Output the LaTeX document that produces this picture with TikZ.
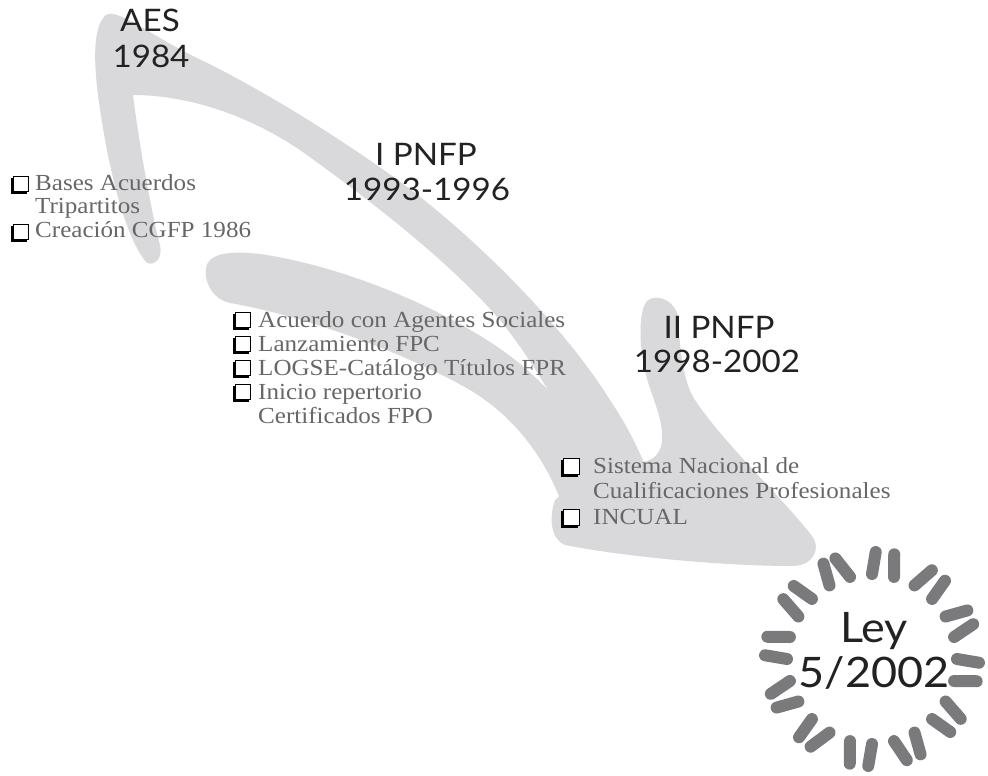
\documentclass[tikz,border=0pt]{standalone}
\usepackage{fontspec}
\setmainfont{Liberation Serif}
\newfontfamily\titlefont[FakeStretch=1.07]{Lato}
\newfontfamily\itemfont[FakeStretch=1.09]{Liberation Serif}
\definecolor{swoosh}{HTML}{D9D9DB}
\definecolor{raygray}{HTML}{7A7A7C}
\definecolor{itemgray}{HTML}{676767}
\definecolor{titleblack}{HTML}{222222}
\tikzset{
  titletext/.style={font=\titlefont\fontsize{31}{36}\selectfont, text=titleblack, inner sep=0pt, anchor=base},
  leytext/.style={font=\titlefont\fontsize{42}{45}\selectfont, text=titleblack, inner sep=0pt, anchor=base},
  itemtext/.style={font=\itemfont\fontsize{23}{24}\selectfont, text=itemgray, inner sep=0pt, anchor=base west},
  chk/.style={draw=black, line width=0.9pt, fill=white, minimum size=15pt, inner sep=0pt,
    preaction={fill=black, draw=black, line width=0.9pt, transform canvas={shift={(-2pt,-2pt)}}}},
  sunray/.style={draw=raygray, line width=12pt, line cap=round}
}
\begin{document}
\begin{tikzpicture}[x=1pt,y=-1pt]
\useasboundingbox (0,0) rectangle (988,776);
\fill[white] (0,0) rectangle (988,776);

% ---- grey brush arrow ----
\fill[swoosh] (147,263)
 .. controls (126,240) and (108,170) .. (98,95)
 .. controls (93,55) and (94,25) .. (106,15)
 .. controls (118,8) and (150,35) .. (195,57)
 .. controls (260,88) and (335,135) .. (395,178)
 .. controls (465,228) and (560,320) .. (610,400)
 .. controls (630,430) and (645,460) .. (655,495)
 -- (600,505)
 .. controls (580,440) and (540,370) .. (500,320)
 .. controls (450,262) and (370,200) .. (300,150)
 .. controls (240,110) and (180,95) .. (133,95)
 .. controls (140,150) and (152,215) .. (160,245)
 .. controls (163,258) and (155,266) .. (147,263) -- cycle;

\fill[swoosh] (230,303)
 .. controls (215,300) and (204,285) .. (206,268)
 .. controls (208,255) and (225,250) .. (260,254)
 .. controls (330,264) and (420,297) .. (490,342)
 .. controls (540,374) and (580,420) .. (610,480)
 -- (570,530)
 .. controls (555,470) and (520,420) .. (470,390)
 .. controls (400,350) and (300,315) .. (230,303) -- cycle;

\fill[swoosh] (565,545)
 .. controls (620,556) and (720,566) .. (792,566)
 .. controls (812,566) and (822,550) .. (812,536)
 .. controls (780,495) and (725,445) .. (695,400)
 .. controls (683,382) and (680,350) .. (678,318)
 .. controls (677,302) and (657,292) .. (647,301)
 .. controls (639,310) and (638,345) .. (646,375)
 .. controls (652,398) and (664,420) .. (662,442)
 .. controls (660,456) and (650,462) .. (640,462)
 -- (590,470) -- (555,500)
 .. controls (548,520) and (552,540) .. (565,545) -- cycle;

% ---- sun rays ----
\coordinate (sun) at (872,659);
\foreach \a/\t in {0/2,15/-3,30/4,45/-2,60/3,75/-4,90/2,105/-3,120/5,135/-2,150/3,165/-4,
                   180/2,195/-3,210/4,225/-2,240/3,255/-5,270/2,285/-3,300/4,315/-2,330/3,345/-4}
  \draw[sunray, shift={(sun)}] (\a:85) -- (\a+\t:107);

% ---- titles ----
\node[titletext] (aesA) at (150,32) {AES};
\node[titletext] (aesB) at (151,68) {1984};
\node[titletext] (pnfpA) at (426,165) {I PNFP};
\node[titletext] (pnfpB) at (427,200) {1993-1996};
\node[titletext] (pnfpC) at (719,338) {II PNFP};
\node[titletext] (pnfpD) at (717,372) {1998-2002};
\node[leytext] (leyA) at (874,642) {Ley};
\node[leytext] (leyB) at (874,687) {5/2002};

% ---- items ----
\node[chk] (b1) at (21,184) {};
\node[itemtext] (t1a) at (35,190) {Bases Acuerdos};
\node[itemtext] (t1b) at (35,213.5) {Tripartitos};
\node[chk] (b2) at (21,232) {};
\node[itemtext] (t2) at (35,237) {Creación CGFP 1986};

\node[chk] (b3) at (243,320) {};
\node[itemtext] (t3) at (258,327) {Acuerdo con Agentes Sociales};
\node[chk] (b4) at (243,344) {};
\node[itemtext] (t4) at (258,351) {Lanzamiento FPC};
\node[chk] (b5) at (243,368) {};
\node[itemtext] (t5) at (258,375) {LOGSE-Catálogo Títulos FPR};
\node[chk] (b6) at (243,392) {};
\node[itemtext] (t6a) at (258,399) {Inicio repertorio};
\node[itemtext] (t6b) at (258,423) {Certificados FPO};

\node[chk, minimum size=16pt] (b7) at (571,466) {};
\node[itemtext] (t7a) at (593,473) {Sistema Nacional de};
\node[itemtext] (t7b) at (593,498) {Cualificaciones Profesionales};
\node[chk, minimum size=16pt] (b8) at (571,517) {};
\node[itemtext] (t8) at (593,524) {INCUAL};
\end{tikzpicture}
\end{document}
